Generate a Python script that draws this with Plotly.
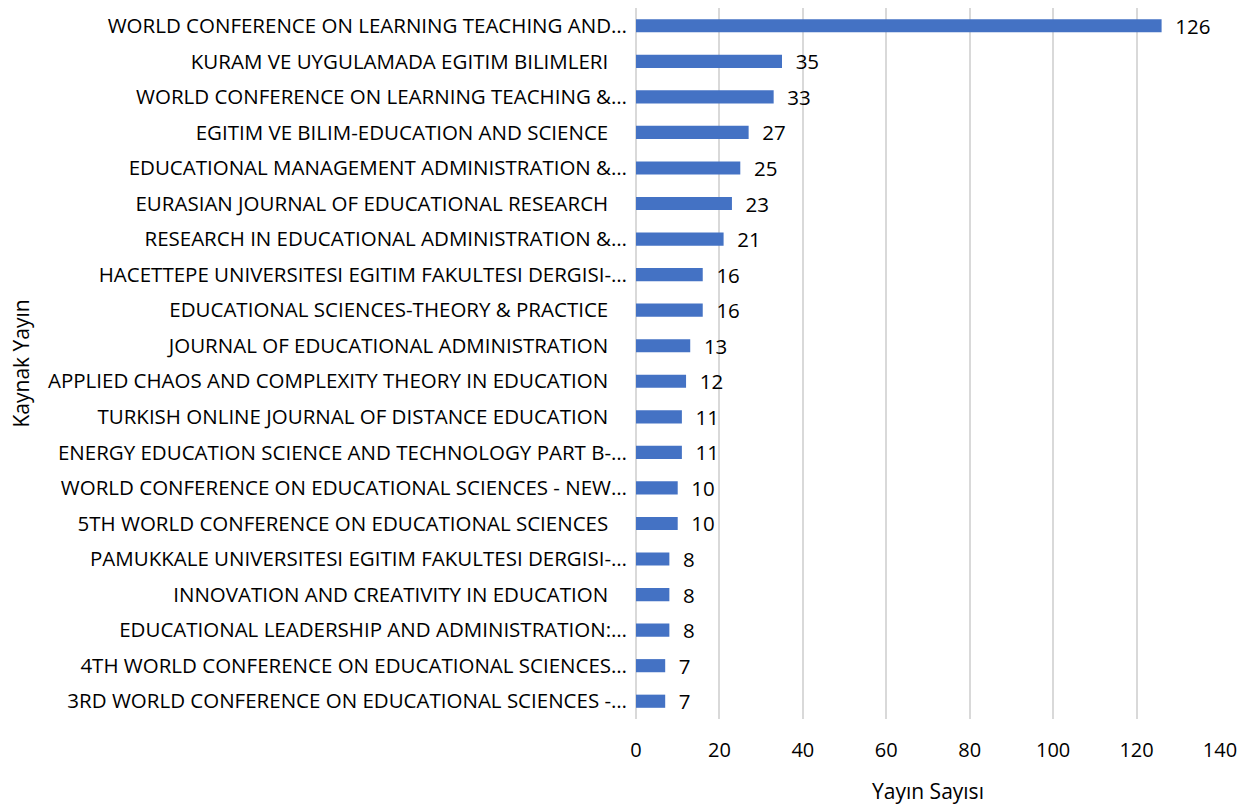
import plotly.graph_objects as go

sources = [
    "WORLD CONFERENCE ON LEARNING TEACHING AND…",
    "KURAM VE UYGULAMADA EGITIM BILIMLERI",
    "WORLD CONFERENCE ON LEARNING TEACHING &…",
    "EGITIM VE BILIM-EDUCATION AND SCIENCE",
    "EDUCATIONAL MANAGEMENT ADMINISTRATION &…",
    "EURASIAN JOURNAL OF EDUCATIONAL RESEARCH",
    "RESEARCH IN EDUCATIONAL ADMINISTRATION &…",
    "HACETTEPE UNIVERSITESI EGITIM FAKULTESI DERGISI-…",
    "EDUCATIONAL SCIENCES-THEORY & PRACTICE",
    "JOURNAL OF EDUCATIONAL ADMINISTRATION",
    "APPLIED CHAOS AND COMPLEXITY THEORY IN EDUCATION",
    "TURKISH ONLINE JOURNAL OF DISTANCE EDUCATION",
    "ENERGY EDUCATION SCIENCE AND TECHNOLOGY PART B-…",
    "WORLD CONFERENCE ON EDUCATIONAL SCIENCES - NEW…",
    "5TH WORLD CONFERENCE ON EDUCATIONAL SCIENCES",
    "PAMUKKALE UNIVERSITESI EGITIM FAKULTESI DERGISI-…",
    "INNOVATION AND CREATIVITY IN EDUCATION",
    "EDUCATIONAL LEADERSHIP AND ADMINISTRATION:…",
    "4TH WORLD CONFERENCE ON EDUCATIONAL SCIENCES…",
    "3RD WORLD CONFERENCE ON EDUCATIONAL SCIENCES -…",
]
counts = [126, 35, 33, 27, 25, 23, 21, 16, 16, 13, 12, 11, 11, 10, 10, 8, 8, 8, 7, 7]
x_ticks = [0, 20, 40, 60, 80, 100, 120, 140]

FONT = "Open Sans, Noto Sans, sans-serif"
TXT = "#000000"

# labels without an ellipsis keep a trailing gap, like in the original chart
tick_text = [s if s.endswith("…") else s + "\u2002\u2009\u2005" for s in sources]

fig = go.Figure()
fig.add_trace(go.Bar(
    x=counts,
    y=sources,
    orientation="h",
    marker=dict(color="#4472C4", line=dict(width=0)),
    width=0.37,
    text=counts,
    texttemplate="  %{x}",
    textposition="outside",
    constraintext="none",
    cliponaxis=False,
    textfont=dict(size=20.5, color=TXT, family=FONT),
))

fig.update_xaxes(
    range=[0, 140],
    tickvals=x_ticks,
    showgrid=True,
    gridcolor="#D9D9D9",
    gridwidth=1.5,
    zeroline=True,
    zerolinecolor="#D9D9D9",
    zerolinewidth=1.5,
    showline=False,
    tickfont=dict(size=20, color=TXT, family=FONT),
    ticks="",
    ticklabelstandoff=17,
    title=dict(text="Yayın Sayısı", font=dict(size=21, color=TXT, family=FONT), standoff=22),
)
fig.update_yaxes(
    autorange="reversed",
    tickvals=sources,
    ticktext=tick_text,
    showgrid=False,
    showline=False,
    ticks="",
    ticklabelstandoff=8,
    tickfont=dict(size=20.5, color=TXT, family=FONT),
)

fig.add_annotation(
    text="Kaynak Yayın",
    xref="paper", yref="paper",
    x=0, xanchor="center", xshift=-616, y=0.5,
    textangle=-90,
    showarrow=False,
    font=dict(size=21, color=TXT, family=FONT),
)

fig.update_layout(
    width=1253,
    height=805,
    margin=dict(l=628, r=41, t=0, b=94, autoexpand=False),
    plot_bgcolor="white",
    paper_bgcolor="white",
    showlegend=False,
)

fig.write_html("out.html")
